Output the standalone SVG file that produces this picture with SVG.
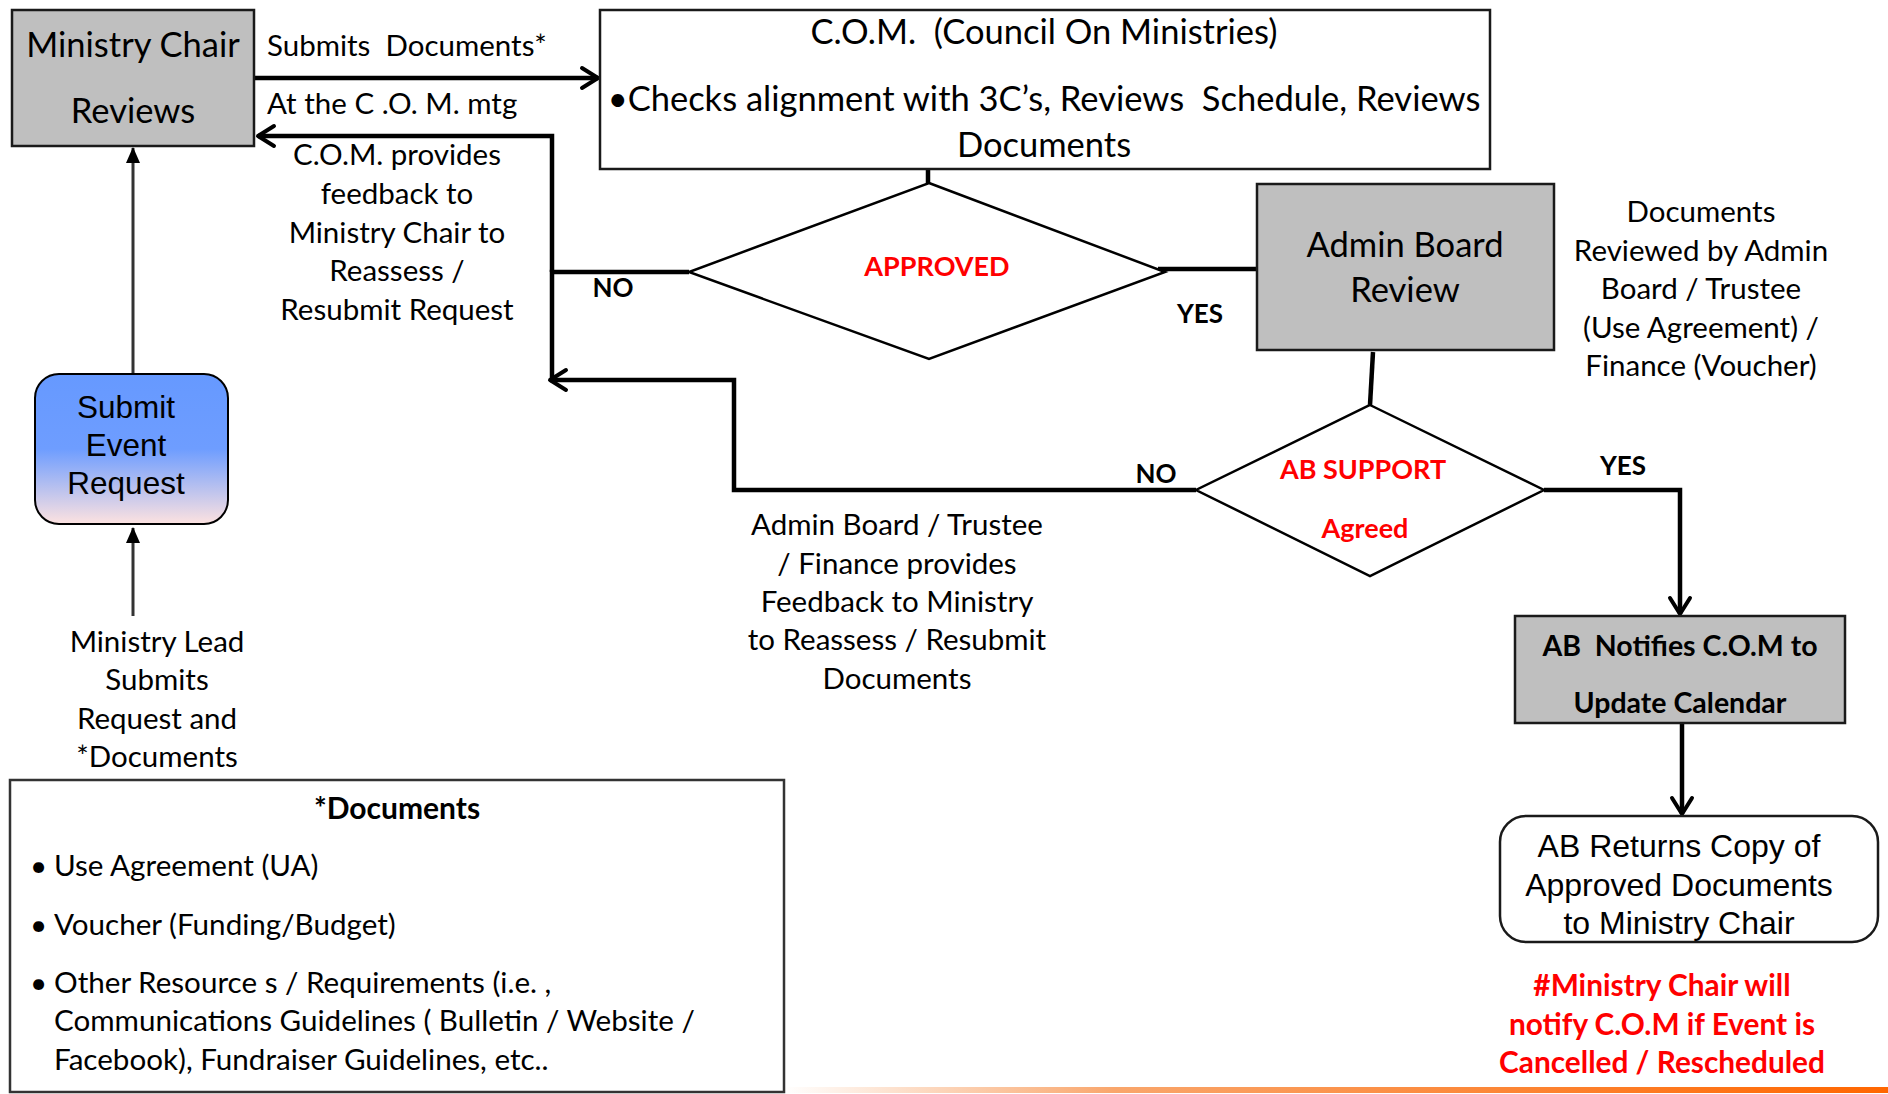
<svg xmlns="http://www.w3.org/2000/svg" width="1888" height="1094" viewBox="0 0 1888 1094">
<style>
text{white-space:pre}
.c{font-family:Lato,"Open Sans","DejaVu Sans",sans-serif;fill:#000}
.a{font-family:"Liberation Sans",Arial,sans-serif;fill:#000}
.b{font-weight:bold}
.r{fill:#ff0000;font-weight:bold}
.m{text-anchor:middle}
.box{fill:#bfbfbf;stroke:#1a1a1a;stroke-width:2.5}
.wbox{fill:#fff;stroke:#1a1a1a;stroke-width:2.5}
.dia{fill:#fff;stroke:#000;stroke-width:2.5}
.ln{fill:none;stroke:#000;stroke-width:4.5}
.thin{fill:none;stroke:#333;stroke-width:3}
</style>
<defs>
<marker id="open" markerUnits="userSpaceOnUse" viewBox="0 0 22 26" refX="19" refY="13" markerWidth="22" markerHeight="26" orient="auto">
<path d="M3,3 L19,13 L3,23" fill="none" stroke="#000" stroke-width="4" stroke-linecap="round" stroke-linejoin="round"/>
</marker>
<marker id="tri" markerUnits="userSpaceOnUse" viewBox="0 0 16 14" refX="15" refY="7" markerWidth="16" markerHeight="14" orient="auto">
<path d="M0,0 L16,7 L0,14 z" fill="#000"/>
</marker>
<linearGradient id="blue" x1="0" y1="0" x2="0" y2="1">
<stop offset="0" stop-color="#6699ff"/>
<stop offset="0.5" stop-color="#6e9dff"/>
<stop offset="1" stop-color="#fde2e0"/>
</linearGradient>
<linearGradient id="orange" x1="783" y1="0" x2="1888" y2="0" gradientUnits="userSpaceOnUse">
<stop offset="0" stop-color="#ffffff"/>
<stop offset="0.3" stop-color="#f9a66c"/>
<stop offset="1" stop-color="#ff6600"/>
</linearGradient>
</defs>

<rect x="783" y="1087" width="1105" height="6" fill="url(#orange)"/>

<g id="connectors">
<path class="ln" d="M254,78 L598,78" marker-end="url(#open)"/>
<path class="ln" d="M552,272 L552,136 L258,136" marker-end="url(#open)"/>
<path class="ln" d="M689,272 L552,272 L552,382"/>
<path class="ln" d="M1196,490 L734,490 L734,380 L550,380" marker-end="url(#open)"/>
<path class="ln" d="M928,152 L928,183"/>
<path class="ln" d="M1158,269 L1257,269"/>
<path class="ln" d="M1373,352 L1370,405"/>
<path class="ln" d="M1544,490 L1680,490 L1680,614" marker-end="url(#open)"/>
<path class="ln" d="M1682,723 L1682,814" marker-end="url(#open)"/>
<path class="thin" d="M133,374 L133,148" marker-end="url(#tri)"/>
<path class="thin" d="M133,616 L133,528" marker-end="url(#tri)"/>
<text class="c" x="267" y="56" font-size="29.5">Submits  Documents*</text>
<text class="c" x="267" y="114" font-size="29.5">At the C .O. M. mtg</text>
<text class="c m" font-size="29.5"><tspan x="397" y="165">C.O.M. provides</tspan><tspan x="397" y="204">feedback to</tspan><tspan x="397" y="243">Ministry Chair to</tspan><tspan x="397" y="281">Reassess /</tspan><tspan x="397" y="320">Resubmit Request</tspan></text>
<text class="c b m" x="613" y="297" font-size="26">NO</text>
<text class="c b m" x="1200" y="323" font-size="26">YES</text>
<text class="c b m" x="1156" y="483" font-size="26">NO</text>
<text class="c b m" x="1623" y="475" font-size="26">YES</text>
<text class="c m" font-size="29.5"><tspan x="897" y="535">Admin Board / Trustee</tspan><tspan x="897" y="574">/ Finance provides</tspan><tspan x="897" y="612">Feedback to Ministry</tspan><tspan x="897" y="650">to Reassess / Resubmit</tspan><tspan x="897" y="689">Documents</tspan></text>
<text class="c m" font-size="29.5"><tspan x="1701" y="222">Documents</tspan><tspan x="1701" y="261">Reviewed by Admin</tspan><tspan x="1701" y="299">Board / Trustee</tspan><tspan x="1701" y="338">(Use Agreement) /</tspan><tspan x="1701" y="376">Finance (Voucher)</tspan></text>
<text class="c m" font-size="29.5"><tspan x="157" y="652">Ministry Lead</tspan><tspan x="157" y="690">Submits</tspan><tspan x="157" y="729">Request and</tspan><tspan x="157" y="767">*Documents</tspan></text>
</g>

<g id="ministry-chair">
<rect class="box" x="12" y="10" width="242" height="136"/>
<text class="c m" x="133" y="57" font-size="34.5">Ministry Chair</text>
<text class="c m" x="133" y="123" font-size="34.5">Reviews</text>
</g>

<g id="com">
<rect class="wbox" x="600" y="10" width="890" height="159"/>
<text class="c m" x="1044" y="44" font-size="34.5">C.O.M.  (Council On Ministries)</text>
<text class="c m" x="1044" y="111" font-size="34.5">•Checks alignment with 3C’s, Reviews  Schedule, Reviews</text>
<text class="c m" x="1044" y="157" font-size="34.5">Documents</text>
</g>

<g id="approved">
<polygon class="dia" points="929,183 1165,272 929,359 689,272"/>
<text class="c r m" x="937" y="276" font-size="27">APPROVED</text>
</g>

<g id="admin-board">
<rect class="box" x="1257" y="184" width="297" height="166"/>
<text class="c m" x="1405" y="257" font-size="34.5">Admin Board</text>
<text class="c m" x="1405" y="302" font-size="34.5">Review</text>
</g>

<g id="ab-support">
<polygon class="dia" points="1370,405 1544,490 1370,576 1196,490"/>
<text class="c r m" x="1363" y="479" font-size="27">AB SUPPORT</text>
<text class="c r m" x="1365" y="538" font-size="27">Agreed</text>
</g>

<g id="ab-notifies">
<rect class="box" x="1515" y="616" width="330" height="107"/>
<text class="c b m" x="1680" y="656" font-size="28.5">AB  Notifies C.O.M to</text>
<text class="c b m" x="1680" y="713" font-size="28.5">Update Calendar</text>
</g>

<g id="ab-returns">
<rect class="wbox" x="1500" y="816" width="378" height="126" rx="26"/>
<text class="a m" font-size="32"><tspan x="1679" y="857">AB Returns Copy of</tspan><tspan x="1679" y="896">Approved Documents</tspan><tspan x="1679" y="934">to Ministry Chair</tspan></text>
</g>

<g id="note">
<text class="c r m" font-size="29.8"><tspan x="1662" y="996">#Ministry Chair will</tspan><tspan x="1662" y="1035">notify C.O.M if Event is</tspan><tspan x="1662" y="1073">Cancelled / Rescheduled</tspan></text>
</g>

<g id="submit-event">
<rect x="35" y="374" width="193" height="150" rx="24" fill="url(#blue)" stroke="#000" stroke-width="2"/>
<text class="a m" font-size="31.5"><tspan x="126" y="418">Submit</tspan><tspan x="126" y="456">Event</tspan><tspan x="126" y="494">Request</tspan></text>
</g>

<g id="documents">
<rect x="10" y="780" width="774" height="312" fill="#fff" stroke="#333" stroke-width="2.5"/>
<text class="c b m" x="397" y="819" font-size="30">*Documents</text>
<g font-size="29.6">
<text class="c" x="30" y="876">•</text><text class="c" x="54" y="876">Use Agreement (UA)</text>
<text class="c" x="30" y="935">•</text><text class="c" x="54" y="935">Voucher (Funding/Budget)</text>
<text class="c" x="30" y="993">•</text><text class="c" x="54" y="993">Other Resource s / Requirements (i.e. ,</text>
<text class="c" x="54" y="1031">Communications Guidelines ( Bulletin / Website /</text>
<text class="c" x="54" y="1070">Facebook), Fundraiser Guidelines, etc..</text>
</g>
</g>
</svg>
